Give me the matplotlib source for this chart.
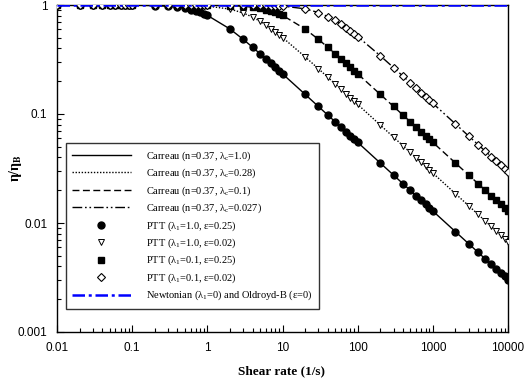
import matplotlib
matplotlib.use("Agg")
import matplotlib.pyplot as plt

plt.rcParams['mathtext.fontset'] = 'stix'
plt.rcParams['mathtext.default'] = 'regular'

shear_rate = [0.01, 0.02, 0.03, 0.04, 0.05, 0.06, 0.07, 0.08, 0.09,
              0.1, 0.2, 0.3, 0.4, 0.5, 0.6, 0.7, 0.8, 0.9,
              1, 2, 3, 4, 5, 6, 7, 8, 9,
              10, 20, 30, 40, 50, 60, 70, 80, 90,
              100, 200, 300, 400, 500, 600, 700, 800, 900,
              1000, 2000, 3000, 4000, 5000, 6000, 7000, 8000, 9000,
              10000]

visc_lam1 = [1.0, 0.9999, 0.9997, 0.9995, 0.9992, 0.9989, 0.9985, 0.998, 0.9975,
             0.9969, 0.9877, 0.9732, 0.9543, 0.9321, 0.9077, 0.8820, 0.8557, 0.8295,
             0.8038, 0.6023, 0.4842, 0.4096, 0.3583, 0.3206, 0.2916, 0.2685, 0.2495,
             0.2337, 0.1514, 0.1173, 0.0979, 0.0850, 0.0758, 0.0688, 0.0633, 0.0587,
             0.05495, 0.03551, 0.02751, 0.02295, 0.01993, 0.01777, 0.01613, 0.01483, 0.01376,
             0.01288, 0.00832, 0.00645, 0.00538, 0.00467, 0.00417, 0.00378, 0.00348, 0.00323,
             0.00302]

visc_lam028 = [1.0, 1.0, 1.0, 1.0, 1.0, 0.9999, 0.9999, 0.9998, 0.9998,
               0.9998, 0.9990, 0.9978, 0.9961, 0.9939, 0.9913, 0.9882, 0.9847, 0.9808,
               0.9765, 0.9177, 0.8452, 0.7741, 0.7105, 0.6555, 0.6085, 0.5682, 0.5335,
               0.5033, 0.3345, 0.2605, 0.2177, 0.1893, 0.1689, 0.1533, 0.1410, 0.1309,
               0.1225, 0.07918, 0.06134, 0.05117, 0.04444, 0.03962, 0.03597, 0.03307, 0.03068,
               0.02872, 0.01856, 0.01438, 0.01199, 0.01042, 0.00929, 0.00843, 0.00775, 0.00719,
               0.00673]

visc_lam01 = [1.0, 1.0, 1.0, 1.0, 1.0, 1.0, 1.0, 1.0, 1.0,
              1.0, 0.9999, 0.9997, 0.9995, 0.9992, 0.9989, 0.9985, 0.998, 0.9975,
              0.9969, 0.9877, 0.9732, 0.9543, 0.9321, 0.9077, 0.8820, 0.8557, 0.8295,
              0.8038, 0.6023, 0.4842, 0.4096, 0.3583, 0.3206, 0.2916, 0.2685, 0.2495,
              0.2337, 0.1514, 0.1173, 0.0979, 0.0850, 0.0758, 0.0688, 0.0633, 0.0587,
              0.05495, 0.03551, 0.02751, 0.02295, 0.01993, 0.01777, 0.01613, 0.01483, 0.01376,
              0.01288]

visc_lam0027 = [1.0, 1.0, 1.0, 1.0, 1.0, 1.0, 1.0, 1.0, 1.0,
                1.0, 1.0, 1.0, 1.0, 1.0, 1.0, 0.9999, 0.9999, 0.9998,
                0.9998, 0.9991, 0.9979, 0.9964, 0.9943, 0.9919, 0.9890, 0.9857, 0.9821,
                0.9781, 0.9226, 0.8531, 0.7839, 0.7212, 0.6666, 0.6195, 0.5791, 0.5441,
                0.5137, 0.3420, 0.2664, 0.2227, 0.1937, 0.1728, 0.1568, 0.1442, 0.1339,
                0.1253, 0.08101, 0.06275, 0.05235, 0.04548, 0.04054, 0.03679, 0.03383, 0.03140,
                0.02939]

newtonian = [1.0, 1.0]
newtonian_x = [0.01, 10000]

carreau_labels = [r"Carreau (n=0.37, λ$_{c}$=1.0)",
                  r"Carreau (n=0.37, λ$_{c}$=0.28)",
                  r"Carreau (n=0.37, λ$_{c}$=0.1)",
                  r"Carreau (n=0.37, λ$_{c}$=0.027)"]
ptt_labels = [r"PTT (λ$_{1}$=1.0, ε=0.25)",
              r"PTT (λ$_{1}$=1.0, ε=0.02)",
              r"PTT (λ$_{1}$=0.1, ε=0.25)",
              r"PTT (λ$_{1}$=0.1, ε=0.02)"]
newt_label = r"Newtonian (λ$_{1}$=0) and Oldroyd-B (ε=0)"

fig = plt.figure(figsize=(5.26, 3.81), dpi=100)
ax = fig.add_axes([57/526, 1-332/381, (508-57)/526, (332-5)/381])

series = [visc_lam1, visc_lam028, visc_lam01, visc_lam0027]
styles = ['-', (0, (1, 1.2)), (0, (5, 2.5)), (0, (7, 2, 1.2, 2, 1.2, 2))]
handles_l = []
for vals, ls, lab in zip(series, styles, carreau_labels):
    h, = ax.plot(shear_rate, vals, color='black', lw=1.0, linestyle=ls, label=lab, zorder=2)
    handles_l.append(h)

mk = [dict(marker='o', mfc='black', mec='black', ms=5),
      dict(marker='v', mfc='white', mec='black', ms=5, mew=0.7),
      dict(marker='s', mfc='black', mec='black', ms=4.5),
      dict(marker='D', mfc='white', mec='black', ms=4, mew=0.8)]
handles_m = []
for vals, m, lab in zip(series, mk, ptt_labels):
    h, = ax.plot(shear_rate, vals, linestyle='none', label=lab, zorder=3, **m)
    handles_m.append(h)

hn, = ax.plot(newtonian_x, newtonian, color='#0000ff', lw=1.8,
              linestyle=(0, (5, 1.5, 1.2, 1.5)), label=newt_label, zorder=4)

ax.set_xscale('log')
ax.set_yscale('log')
ax.set_xlim(0.01, 10000)
ax.set_ylim(0.001, 1)

ax.set_xticks([0.01, 0.1, 1, 10, 100, 1000, 10000])
ax.set_xticklabels(['0.01', '0.1', '1', '10', '100', '1000', '10000'])
ax.set_yticks([0.001, 0.01, 0.1, 1])
ax.set_yticklabels(['0.001', '0.01', '0.1', '1'])
ax.tick_params(which='both', direction='in', top=False, right=False,
               labelsize=8.5, width=0.8)
ax.tick_params(which='major', length=5, pad=7)
ax.tick_params(which='minor', length=3)
for lab in ax.get_xticklabels() + ax.get_yticklabels():
    lab.set_fontfamily('Liberation Sans')
for s in ax.spines.values():
    s.set_linewidth(1.0)

ax.set_xlabel('Shear rate (1/s)', fontfamily='Liberation Serif', fontweight='bold',
              fontsize=9.5)
ax.xaxis.set_label_coords((282-57)/451, -(371-332)/327)
ax.xaxis.label.set_va('center')
ax.set_ylabel(r'η/η$_{\mathbf{B}}$', fontfamily='Liberation Serif', fontweight='bold',
              fontsize=10)
ax.yaxis.set_label_coords(-(57-15)/451, 0.5)
ax.yaxis.label.set_va('center')

leg = ax.legend(handles=handles_l + handles_m + [hn], loc='upper left',
                bbox_to_anchor=(0.02, 0.578), borderaxespad=0,
                prop={'family': 'Liberation Serif', 'size': 7.5},
                frameon=True, fancybox=False, edgecolor='black',
                handlelength=5.6, handletextpad=1.5, labelspacing=0.38,
                borderpad=0.6)
leg.get_frame().set_linewidth(1.0)

fig.savefig('out.png', dpi=100)
